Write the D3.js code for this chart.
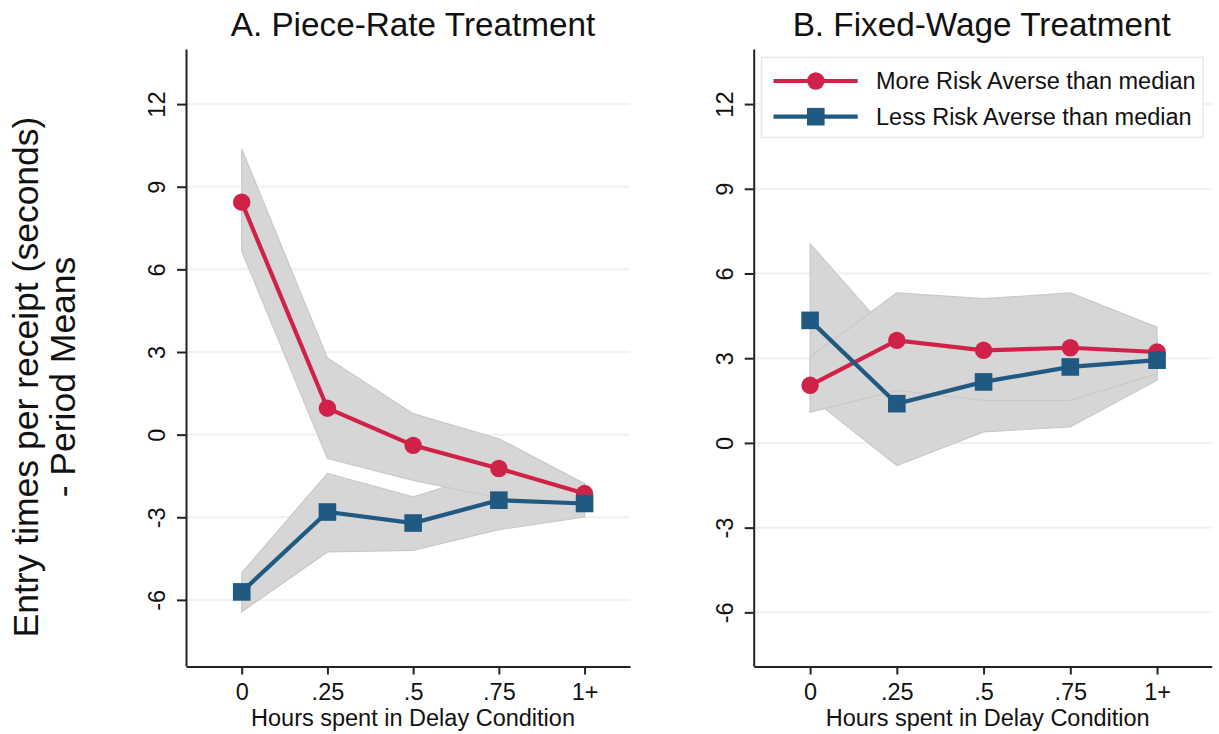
<!DOCTYPE html>
<html>
<head>
<meta charset="utf-8">
<script src="https://cdn.jsdelivr.net/npm/d3@7"></script>
<style>
  body { margin: 0; background: #fff; }
  svg { font-family: "Liberation Sans", Arial, Helvetica, sans-serif; }
</style>
</head>
<body>
<svg id="chart" width="1219" height="734"></svg>
<script>
var FONT = '"Liberation Sans", Arial, Helvetica, sans-serif';

// hours in delay condition (x categories)
var hours = ["0", ".25", ".5", ".75", "1+"];
var yTicks = [-6, -3, 0, 3, 6, 9, 12];

// A. piece-rate treatment
var pieceMore   = [8.44, 0.96, -0.39, -1.23, -2.14];
var pieceMoreLo = [6.66, -0.87, -1.66, -2.30, -2.50];
var pieceMoreHi = [10.37, 2.78, 0.76, -0.15, -1.78];
var pieceLess   = [-5.71, -2.81, -3.21, -2.38, -2.50];
var pieceLessLo = [-6.43, -4.26, -4.20, -3.45, -2.99];
var pieceLessHi = [-5.02, -1.41, -2.26, -1.31, -2.01];

// B. fixed-wage treatment
var fixedMore   = [2.04, 3.63, 3.28, 3.37, 3.22];
var fixedMoreLo = [1.09, 1.86, 1.51, 1.51, 2.45];
var fixedMoreHi = [3.04, 5.31, 5.11, 5.31, 4.10];
var fixedLess   = [4.34, 1.39, 2.16, 2.69, 2.93];
var fixedLessLo = [1.63, -0.80, 0.39, 0.57, 2.22];
var fixedLessHi = [7.05, 3.58, 3.93, 4.81, 3.64];

var seriesNames = ["More Risk Averse than median", "Less Risk Averse than median"];

var red = "#d02248", blue = "#205a82";
var band = "#d6d6d6", bandEdge = "#c9c9c9";
var gridColor = "#ecf2f1", axisColor = "#222";

var svg = d3.select("#chart");

function drawPanel(p) {
  var x = d3.scaleLinear().domain(p.xDomain).range([p.left, p.right]);
  var y = d3.scaleLinear().domain(p.yDomain).range([666, 49]);
  var g = svg.append("g");

  // gridlines
  g.append("g").selectAll("line")
    .data(yTicks)
    .enter().append("line")
    .attr("x1", p.left).attr("x2", p.right)
    .attr("y1", function(d) { return y(d); })
    .attr("y2", function(d) { return y(d); })
    .attr("stroke", gridColor)
    .attr("stroke-width", 2);

  var area = d3.area()
    .x(function(d, i) { return x(i); })
    .y0(function(d) { return y(d[0]); })
    .y1(function(d) { return y(d[1]); });

  var line = d3.line()
    .x(function(d, i) { return x(i); })
    .y(function(d) { return y(d); });

  // confidence bands: "less" first, "more" on top
  [[p.lessLo, p.lessHi], [p.moreLo, p.moreHi]].forEach(function(b) {
    g.append("path")
      .datum(d3.zip(b[0], b[1]))
      .attr("d", area)
      .attr("fill", band)
      .attr("stroke", bandEdge)
      .attr("stroke-width", 1.2);
  });

  // red line + circles
  g.append("path").datum(p.more).attr("d", line)
    .attr("fill", "none").attr("stroke", red).attr("stroke-width", 4.2);
  g.append("g").selectAll("circle")
    .data(p.more).enter().append("circle")
    .attr("cx", function(d, i) { return x(i); })
    .attr("cy", function(d) { return y(d); })
    .attr("r", 8.7)
    .attr("fill", red);

  // blue line + squares
  g.append("path").datum(p.less).attr("d", line)
    .attr("fill", "none").attr("stroke", blue).attr("stroke-width", 4.2);
  var s = 17.6;
  g.append("g").selectAll("rect")
    .data(p.less).enter().append("rect")
    .attr("x", function(d, i) { return x(i) - s / 2; })
    .attr("y", function(d) { return y(d) - s / 2; })
    .attr("width", s).attr("height", s)
    .attr("fill", blue);

  // axes
  var yAxis = g.append("g")
    .attr("transform", "translate(" + p.left + ",0)")
    .call(d3.axisLeft(y).tickValues(yTicks).tickSize(9).tickSizeOuter(0)
      .tickFormat(function(d) { return String(d); }));
  yAxis.selectAll("text")
    .attr("x", null).attr("dy", null)
    .attr("text-anchor", "middle")
    .attr("transform", "translate(-21,0) rotate(-90)");

  var xAxis = g.append("g")
    .attr("transform", "translate(0,666.5)")
    .call(d3.axisBottom(x).tickValues(d3.range(hours.length))
      .tickFormat(function(i) { return hours[i]; })
      .tickSize(8).tickSizeOuter(0));
  xAxis.selectAll("text")
    .attr("y", 33).attr("dy", null);

  [yAxis, xAxis].forEach(function(a) {
    a.attr("font-family", FONT).attr("font-size", 23.5);
    a.selectAll("text").attr("fill", "#111");
    a.selectAll("path, line").attr("stroke", axisColor).attr("stroke-width", 2);
  });

  // x title
  g.append("text")
    .attr("x", (p.left + p.right) / 2 + 5)
    .attr("y", 726)
    .attr("text-anchor", "middle")
    .attr("font-size", 23.5)
    .attr("fill", "#111")
    .text("Hours spent in Delay Condition");

  // panel title
  g.append("text")
    .attr("x", (p.left + p.right) / 2 + p.titleShift)
    .attr("y", 36)
    .attr("text-anchor", "middle")
    .attr("font-size", 33.3)
    .attr("fill", "#111")
    .text(p.title);
}

drawPanel({
  title: "A. Piece-Rate Treatment", titleShift: 5,
  left: 186, right: 630,
  xDomain: [-0.65, 4.53], yDomain: [-8.4, 14],
  more: pieceMore, moreLo: pieceMoreLo, moreHi: pieceMoreHi,
  less: pieceLess, lessLo: pieceLessLo, lessHi: pieceLessHi
});

drawPanel({
  title: "B. Fixed-Wage Treatment", titleShift: -1,
  left: 753.7, right: 1211.7,
  xDomain: [-0.65, 4.63], yDomain: [-7.9, 13.95],
  more: fixedMore, moreLo: fixedMoreLo, moreHi: fixedMoreHi,
  less: fixedLess, lessLo: fixedLessLo, lessHi: fixedLessHi
});

// y axis title (two lines)
var yTitle = svg.append("text")
  .attr("transform", "translate(38,377) rotate(-90)")
  .attr("text-anchor", "middle")
  .attr("font-size", 35.5)
  .attr("fill", "#111");
yTitle.append("tspan").attr("x", 0).attr("y", 0).text("Entry times per receipt (seconds)");
yTitle.append("tspan").attr("x", 0).attr("y", 37).text("- Period Means");

// legend
var legend = svg.append("g");
legend.append("rect")
  .attr("x", 761.5).attr("y", 57.3)
  .attr("width", 441.5).attr("height", 80)
  .attr("fill", "#fff")
  .attr("stroke", "#e4eceb")
  .attr("stroke-width", 1.5);

var rows = legend.selectAll("g.row")
  .data(seriesNames)
  .enter().append("g")
  .attr("class", "row")
  .attr("transform", function(d, i) { return "translate(0," + (81 + i * 35.7) + ")"; });

rows.append("line")
  .attr("x1", 773.5).attr("x2", 857.7)
  .attr("stroke", function(d, i) { return i ? blue : red; })
  .attr("stroke-width", 4.2);
rows.filter(function(d, i) { return i === 0; }).append("circle")
  .attr("cx", 815.8).attr("r", 8.7).attr("fill", red);
rows.filter(function(d, i) { return i === 1; }).append("rect")
  .attr("x", 815.8 - 8.8).attr("y", -8.8).attr("width", 17.6).attr("height", 17.6)
  .attr("fill", blue);
rows.append("text")
  .attr("x", 876)
  .attr("dy", "0.36em")
  .attr("font-size", 23.5)
  .attr("fill", "#111")
  .text(function(d) { return d; });
</script>
</body>
</html>
